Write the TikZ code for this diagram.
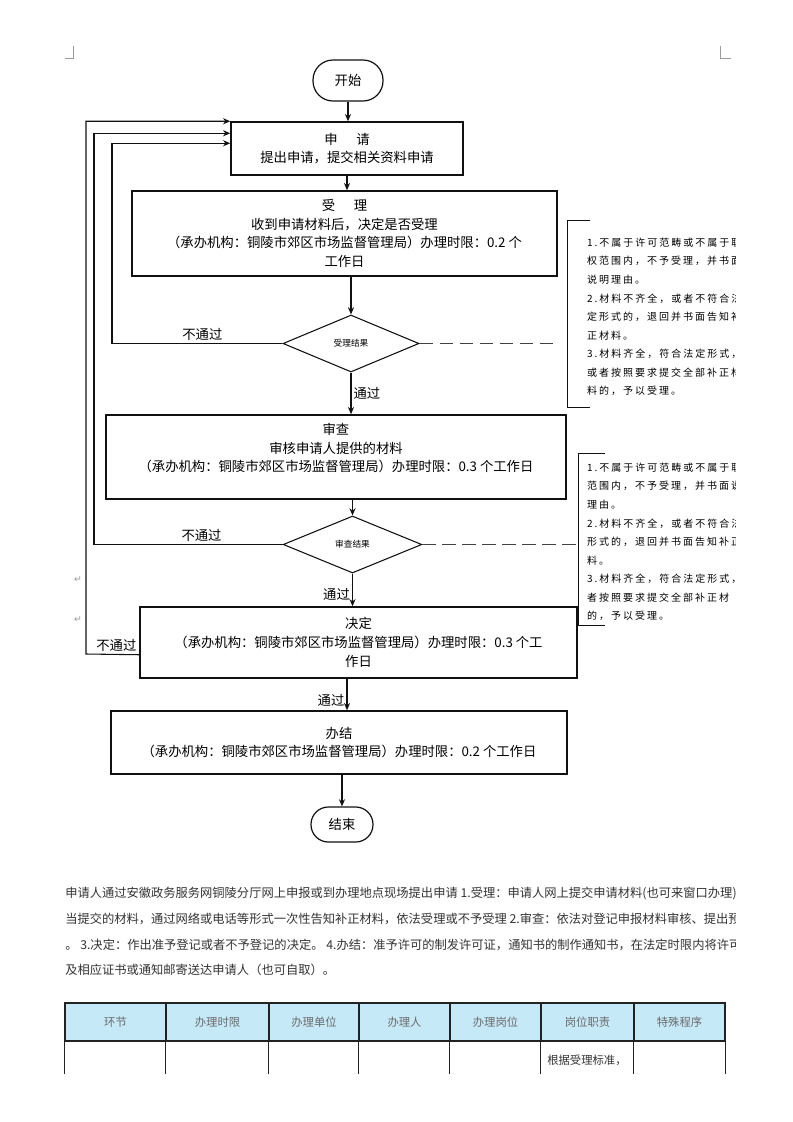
\documentclass[tikz,border=0pt]{standalone}
\usepackage{fontspec}
\setmainfont{Noto Sans CJK SC}
\newfontfamily\notefont[LetterSpace=20]{Noto Sans CJK SC}
\newfontfamily\symfont{DejaVu Sans}
\usepackage{xcolor}
\usepackage{tikz}
\usetikzlibrary{positioning, arrows.meta, shapes.geometric, calc}
\definecolor{ink}{HTML}{111111}
\definecolor{bodytext}{HTML}{333333}
\definecolor{headfill}{HTML}{C6E9F8}
\definecolor{headtext}{HTML}{6B6B6B}
\definecolor{gridink}{HTML}{222222}
\definecolor{marks}{HTML}{9A9A9A}
\tikzset{
  terminal/.style={draw=ink, line width=0.9pt, fill=white, align=center, font=\fontsize{10}{12}\selectfont, inner sep=0pt},
  stepbox/.style={draw=ink, line width=1.1pt, fill=white, align=center, font=\fontsize{10}{14}\selectfont, inner sep=2pt},
  decision/.style={diamond, draw=ink, line width=0.8pt, aspect=2.4, inner sep=0pt, fill=white, font=\fontsize{6.5}{7.5}\selectfont},
  bracketbox/.style={inner sep=0pt},
  note/.style={align=left, anchor=north west, inner sep=0pt, font=\notefont\fontsize{7.5}{13.9}\selectfont},
  flowlabel/.style={font=\fontsize{10}{12}\selectfont, inner sep=1.5pt},
  arrow/.style={-{Stealth[length=1.9mm, width=1.6mm]}, line width=0.9pt, draw=ink},
  backloop/.style={-{Stealth[length=1.9mm, width=1.6mm]}, line width=0.8pt, draw=ink},
  dashedlink/.style={line width=0.9pt, draw=ink!80, dash pattern=on 10pt off 5pt},
  bracketline/.style={line width=0.8pt, draw=ink},
  bodyline/.style={anchor=west, inner sep=0pt, font=\fontsize{9.2}{11}\selectfont, text=bodytext},
  headcell/.style={draw=gridink, line width=0.8pt, fill=headfill, minimum height=28.5pt, inner sep=0pt, font=\fontsize{8.5}{10}\selectfont, text=headtext},
  gridline/.style={line width=0.8pt, draw=gridink},
  cropmark/.style={line width=0.6pt, draw=marks},
}
\begin{document}
\begin{tikzpicture}[x=0.75pt, y=-0.75pt]
  \fill[white] (0,0) rectangle (793,1122);
  \useasboundingbox (0,0) rectangle (793,1122);

  % Page corner marks
  \draw[cropmark] (65,58) -- (73,58) -- (73,46);
  \draw[cropmark] (731,58) -- (720,58) -- (720,46);

  % Main column of the flow chart
  \node[terminal, rounded corners=15pt, minimum width=52.5pt, minimum height=30.75pt] (start) at (348,80.5) {开始};
  \node[stepbox, minimum width=174pt, minimum height=39.75pt] (apply) at (347,148.5)
    {申\hspace{1.4em}请\\提出申请，提交相关资料申请};
  \node[stepbox, minimum width=318.75pt, minimum height=63.75pt] (accept) at (344.5,233.5)
    {受\hspace{1.4em}理\\收到申请材料后，决定是否受理\\（承办机构：铜陵市郊区市场监督管理局）办理时限：0.2 个\\工作日};
  \node[decision, minimum width=102pt, minimum height=42.75pt] (check1) at (351,343.5) {受理结果};
  \node[stepbox, minimum width=345pt, minimum height=63pt] (review) at (336,457)
    {审查\\审核申请人提供的材料\\（承办机构：铜陵市郊区市场监督管理局）办理时限：0.3 个工作日\\ ~};
  \node[decision, minimum width=104pt, minimum height=42.75pt] (check2) at (352.5,544.5) {审查结果};
  \node[stepbox, minimum width=327.75pt, minimum height=53.25pt] (decide) at (358.5,642.5)
    {决定\\（承办机构：铜陵市郊区市场监督管理局）办理时限：0.3 个工\\作日};
  \node[stepbox, minimum width=342pt, minimum height=47.25pt] (done) at (339,742.5)
    {办结\\（承办机构：铜陵市郊区市场监督管理局）办理时限：0.2 个工作日};
  \node[terminal, rounded corners=13pt, minimum width=46.5pt, minimum height=26.25pt] (finish) at (342,824.5) {结束};

  \draw[arrow] (start) -- (start |- apply.north);
  \draw[arrow] (apply) -- (apply |- accept.north);
  \draw[arrow] (check1 |- accept.south) -- (check1.north);
  \draw[arrow] (check1.south) -- node[flowlabel, right] {通过} (check1.south |- review.north);
  \draw[arrow] (check2 |- review.south) -- (check2.north);
  \draw[arrow] (check2.south) -- node[flowlabel, left, pos=0.65] {通过} (check2.south |- decide.north);
  \draw[arrow] (apply |- decide.south) -- node[flowlabel, left, pos=0.7] {通过} (apply |- done.north);
  \draw[arrow] (finish |- done.south) -- (finish.north);

  % Rejections go back to the application box
  \coordinate (backA) at (112,343.5);
  \coordinate (backB) at (94,544.5);
  \coordinate (backC) at (86,654);
  \draw[backloop] (check1.west) -- node[flowlabel, above, pos=0.47] {不通过}
    (check1.west -| backA) |- ($(apply.north west)+(0,22)$);
  \draw[backloop] (check2.west) -- node[flowlabel, above, pos=0.43] {不通过}
    (check2.west -| backB) |- ($(apply.north west)+(0,12)$);
  \draw[backloop] ($(decide.south west)+(0,-24)$) -- node[flowlabel, above, pos=0.43] {不通过}
    (backC) |- (apply.north west);

  % Side notes in brackets, cut at the text edge
  \node[bracketbox, minimum width=16.5pt, minimum height=139.5pt] (bracket1) at (579,314) {};
  \node[bracketbox, minimum width=19.5pt, minimum height=128.25pt] (bracket2) at (592,539.5) {};
  \draw[bracketline] (bracket1.north east) -- (bracket1.north west) -- (bracket1.south west) -- (bracket1.south east);
  \draw[bracketline] (bracket2.north east) -- (bracket2.north west) -- (bracket2.south west) -- (bracket2.south east);
  \draw[dashedlink] (check1.east) -- ($(check1.east -| bracket1.west)+(-9,0)$);
  \draw[dashedlink] (check2.east) -- (check2.east -| bracket2.west);

  \begin{scope}
    \clip (0,0) rectangle (735,1122);
    \node[note] (note1) at ($(bracket1.north west)+(19,17)$)
      {1.不属于许可范畴或不属于职\\权范围内，不予受理，并书面\\说明理由。\\2.材料不齐全，或者不符合法\\定形式的，退回并书面告知补\\正材料。\\3.材料齐全，符合法定形式，\\或者按照要求提交全部补正材\\料的，予以受理。};
    \node[note] (note2) at ($(bracket2.north west)+(8,9)$)
      {1.不属于许可范畴或不属于职\\范围内，不予受理，并书面说\\理由。\\2.材料不齐全，或者不符合法\\形式的，退回并书面告知补正\\料。\\3.材料齐全，符合法定形式，\\者按照要求提交全部补正材\\的，予以受理。};

    % Paragraph under the chart
    \node[bodyline] (para1) at (65,893) {申请人通过安徽政务服务网铜陵分厅网上申报或到办理地点现场提出申请 1.受理：申请人网上提交申请材料(也可来窗口办理)};
    \node[bodyline] (para2) at (65,919) {当提交的材料，通过网络或电话等形式一次性告知补正材料，依法受理或不予受理 2.审查：依法对登记申报材料审核、提出预};
    \node[bodyline] (para3) at (65,945) {。 3.决定：作出准予登记或者不予登记的决定。 4.办结：准予许可的制发许可证，通知书的制作通知书，在法定时限内将许可};
    \node[bodyline] (para4) at (65,970) {及相应证书或通知邮寄送达申请人（也可自取）。};
  \end{scope}

  % Paragraph marks on the left margin
  \node[font=\symfont\fontsize{7}{8}\selectfont, text=marks, inner sep=0pt] (mark1) at (78,580) {↵};
  \node[font=\symfont\fontsize{7}{8}\selectfont, text=marks, inner sep=0pt] (mark2) at (78,620) {↵};

  % Table head
  \node[headcell, minimum width=75.75pt] (cStep) at (115.5,1022) {环节};
  \node[headcell, minimum width=77.25pt] (cTime) at (217.5,1022) {办理时限};
  \node[headcell, minimum width=67.5pt] (cUnit) at (314,1022) {办理单位};
  \node[headcell, minimum width=68.25pt] (cPerson) at (404.5,1022) {办理人};
  \node[headcell, minimum width=68.25pt] (cPost) at (495.5,1022) {办理岗位};
  \node[headcell, minimum width=69.75pt] (cDuty) at (587.5,1022) {岗位职责};
  \node[headcell, minimum width=68.25pt] (cSpecial) at (679.5,1022) {特殊程序};
  \draw[gridline] (cStep.south west) -- ++(0,32);
  \draw[gridline] (cTime.south west) -- ++(0,32);
  \draw[gridline] (cUnit.south west) -- ++(0,32);
  \draw[gridline] (cPerson.south west) -- ++(0,32);
  \draw[gridline] (cPost.south west) -- ++(0,32);
  \draw[gridline] (cDuty.south west) -- ++(0,32);
  \draw[gridline] (cSpecial.south west) -- ++(0,32);
  \draw[gridline] (cSpecial.south east) -- ++(0,32);
  \node[anchor=west, inner sep=0pt, font=\fontsize{8.5}{10}\selectfont, text=bodytext] (dutyText) at (547,1060) {根据受理标准，};
\end{tikzpicture}
\end{document}
